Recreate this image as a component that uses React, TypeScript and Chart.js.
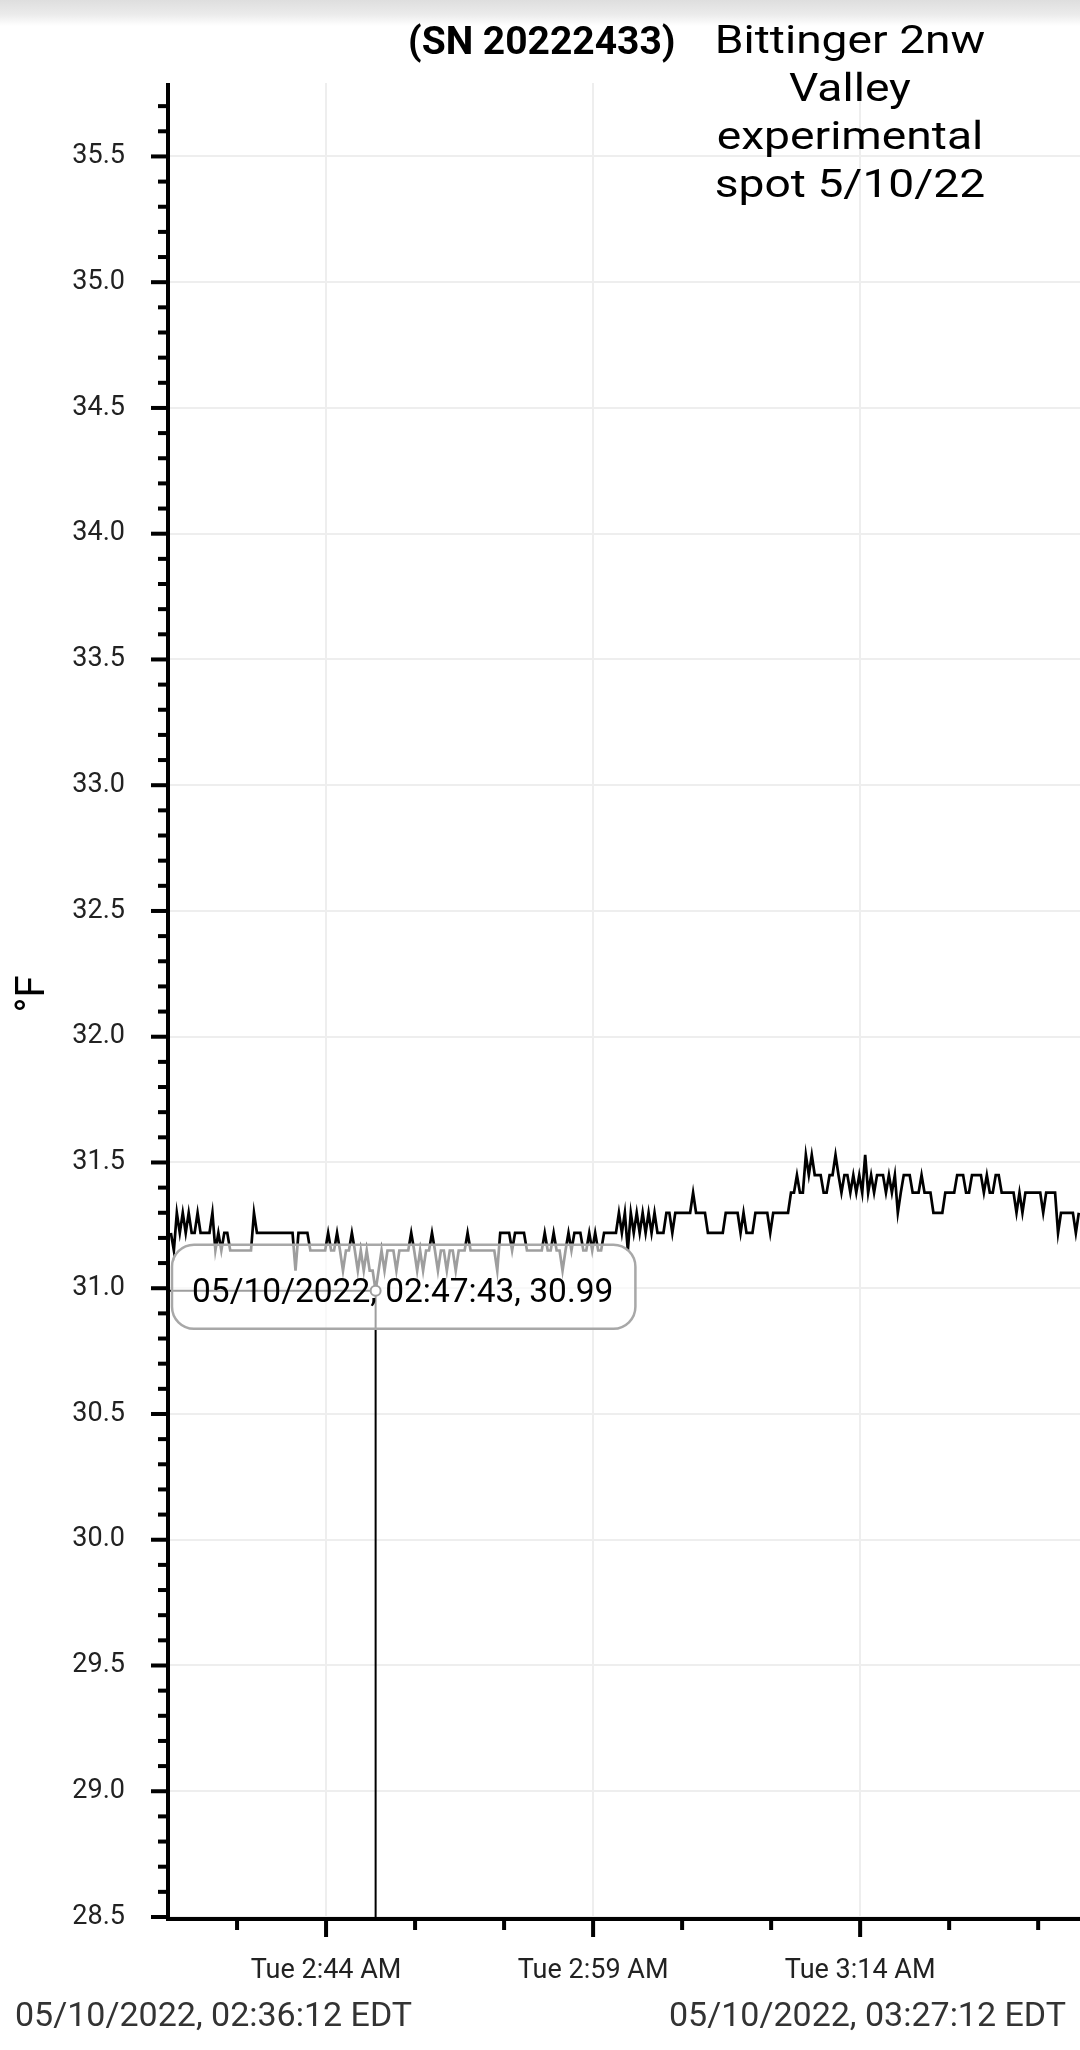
import { useEffect, useRef } from 'react';
import { Chart, registerables } from 'chart.js';

Chart.register(...registerables);

// ---- data ----
const SAMPLE_START_S = 1; // seconds after 05/10/2022 02:36:12
const SAMPLE_STEP_S = 10;
const TEMPS_F = [
  31.22, 31.15, 31.30, 31.22, 31.30, 31.22, 31.30, 31.22, 31.22, 31.30,
  31.22, 31.22, 31.22, 31.22, 31.30, 31.15, 31.22, 31.15, 31.22, 31.22,
  31.15, 31.15, 31.15, 31.15, 31.15, 31.15, 31.15, 31.15, 31.30, 31.22,
  31.22, 31.22, 31.22, 31.22, 31.22, 31.22, 31.22, 31.22, 31.22, 31.22,
  31.22, 31.22, 31.07, 31.22, 31.22, 31.22, 31.22, 31.15, 31.15, 31.15,
  31.15, 31.15, 31.15, 31.22, 31.15, 31.15, 31.22, 31.15, 31.07, 31.15,
  31.15, 31.22, 31.15, 31.07, 31.15, 31.07, 31.15, 31.07, 31.07, 30.99,
  31.07, 31.15, 31.07, 31.15, 31.15, 31.15, 31.07, 31.15, 31.15, 31.15,
  31.15, 31.22, 31.15, 31.07, 31.15, 31.07, 31.15, 31.15, 31.22, 31.15,
  31.07, 31.15, 31.15, 31.07, 31.15, 31.15, 31.07, 31.15, 31.15, 31.15,
  31.22, 31.15, 31.15, 31.15, 31.15, 31.15, 31.15, 31.15, 31.15, 31.15,
  31.07, 31.22, 31.22, 31.22, 31.22, 31.15, 31.22, 31.22, 31.22, 31.22,
  31.15, 31.15, 31.15, 31.15, 31.15, 31.15, 31.22, 31.15, 31.15, 31.22,
  31.15, 31.15, 31.07, 31.15, 31.22, 31.15, 31.22, 31.22, 31.22, 31.15,
  31.15, 31.22, 31.15, 31.22, 31.15, 31.15, 31.22, 31.22, 31.22, 31.22,
  31.22, 31.30, 31.22, 31.30, 31.15, 31.30, 31.22, 31.30, 31.22, 31.30,
  31.22, 31.30, 31.22, 31.30, 31.22, 31.22, 31.22, 31.30, 31.30, 31.22,
  31.30, 31.30, 31.30, 31.30, 31.30, 31.30, 31.38, 31.30, 31.30, 31.30,
  31.30, 31.22, 31.22, 31.22, 31.22, 31.22, 31.22, 31.30, 31.30, 31.30,
  31.30, 31.30, 31.22, 31.30, 31.22, 31.22, 31.22, 31.30, 31.30, 31.30,
  31.30, 31.30, 31.22, 31.30, 31.30, 31.30, 31.30, 31.30, 31.30, 31.38,
  31.38, 31.45, 31.38, 31.38, 31.53, 31.45, 31.53, 31.45, 31.45, 31.45,
  31.38, 31.38, 31.45, 31.45, 31.53, 31.45, 31.38, 31.45, 31.45, 31.38,
  31.45, 31.38, 31.45, 31.38, 31.53, 31.38, 31.45, 31.38, 31.45, 31.45,
  31.45, 31.38, 31.45, 31.38, 31.45, 31.30, 31.38, 31.45, 31.45, 31.45,
  31.38, 31.38, 31.38, 31.45, 31.38, 31.38, 31.38, 31.30, 31.30, 31.30,
  31.30, 31.38, 31.38, 31.38, 31.38, 31.45, 31.45, 31.45, 31.38, 31.38,
  31.45, 31.45, 31.45, 31.45, 31.38, 31.45, 31.38, 31.38, 31.45, 31.45,
  31.38, 31.38, 31.38, 31.38, 31.38, 31.30, 31.38, 31.30, 31.38, 31.38,
  31.38, 31.38, 31.38, 31.38, 31.30, 31.38, 31.38, 31.38, 31.38, 31.22,
  31.30, 31.30, 31.30, 31.30, 31.30, 31.22, 31.30,
];

// x axis (seconds after 02:36:12)
const X_MIN_S = -2;
const X_MAX_S = 3065;
const X_TICK_S = [224, 524, 824, 1124, 1424, 1724, 2024, 2324, 2624, 2924];
const X_TICK_LABELS = ['', 'Tue 2:44 AM', '', '', 'Tue 2:59 AM', '', '', 'Tue 3:14 AM', '', ''];

// y axis
const Y_MIN = 28.5;
const Y_MAX = 35.792;
const Y_MAJOR_LABELS = ['28.5', '29.0', '29.5', '30.0', '30.5', '31.0', '31.5', '32.0', '32.5', '33.0', '33.5', '34.0', '34.5', '35.0', '35.5'];
const Y_MINOR_STEP = 0.1;
const Y_UNIT = '°F';

// texts
const TOOLTIP_INDEX = 69;
const TOOLTIP_TIME = '05/10/2022, 02:47:43';
const RANGE_START_LABEL = '05/10/2022, 02:36:12 EDT';
const RANGE_END_LABEL = '05/10/2022, 03:27:12 EDT';
const SERIAL = '(SN 20222433)';
const TITLE_LINES = ['Bittinger 2nw', 'Valley', 'experimental', 'spot 5/10/22'];

const FONT = 'Roboto';
const AXIS_W = 4;

function yMinorTicks(): number[] {
  const out: number[] = [];
  const n = Math.floor((Y_MAX - Y_MIN) / Y_MINOR_STEP + 1e-6);
  for (let i = 0; i <= n; i++) out.push(Math.round((Y_MIN + i * Y_MINOR_STEP) * 10) / 10);
  return out;
}

const axesPlugin = {
  id: 'axesAndTicks',
  afterDraw(chart: any) {
    const { ctx, chartArea, scales, width } = chart;
    const { left, top, bottom } = chartArea;
    ctx.save();
    ctx.fillStyle = '#000';
    // axis lines, drawn just outside the plot area
    ctx.fillRect(left - AXIS_W, top, AXIS_W, bottom - top + AXIS_W);
    ctx.fillRect(left - AXIS_W, bottom, width - left + AXIS_W, AXIS_W);
    // x tick marks
    X_TICK_S.forEach((v, i) => {
      const px = scales.x.getPixelForValue(v);
      const len = X_TICK_LABELS[i] ? 16 : 9;
      ctx.fillRect(px - 2, bottom + AXIS_W, 4, len);
    });
    // y tick marks
    const majors = Y_MAJOR_LABELS.map(Number);
    yMinorTicks().forEach((v) => {
      const py = scales.y.getPixelForValue(v);
      const isMajor = majors.some((m) => Math.abs(m - v) < 1e-6);
      const len = isMajor ? 15 : 8;
      ctx.fillRect(left - AXIS_W - len, py - 2, len, 4);
    });
    // y unit title
    ctx.translate(34, (top + bottom) / 2 - 6);
    ctx.rotate(-Math.PI / 2);
    ctx.font = `40px ${FONT}`;
    ctx.textAlign = 'center';
    ctx.textBaseline = 'middle';
    ctx.fillText(Y_UNIT, 0, 0);
    ctx.restore();
  },
};

const readoutPlugin = {
  id: 'readout',
  afterDraw(chart: any) {
    const { ctx, chartArea } = chart;
    const pt = chart.getDatasetMeta(0).data[TOOLTIP_INDEX];
    if (!pt) return;
    const px = pt.x;
    const py = pt.y;
    ctx.save();
    ctx.strokeStyle = '#000';
    ctx.lineWidth = 2;
    ctx.beginPath();
    ctx.moveTo(chartArea.left, py);
    ctx.lineTo(px, py);
    ctx.moveTo(px, py);
    ctx.lineTo(px, chartArea.bottom);
    ctx.stroke();
    ctx.beginPath();
    ctx.arc(px, py, 5, 0, Math.PI * 2);
    ctx.fillStyle = '#fff';
    ctx.fill();
    ctx.stroke();

    ctx.font = `33.5px ${FONT}`;
    const text = `${TOOLTIP_TIME}, ${TEMPS_F[TOOLTIP_INDEX].toFixed(2)}`;
    const tw = ctx.measureText(text).width;
    const bx = chartArea.left + 2;
    const by = py - 46;
    const bh = 84;
    const bw = tw + 42;
    ctx.beginPath();
    ctx.roundRect(bx, by, bw, bh, 22);
    ctx.fillStyle = 'rgba(255,255,255,0.62)';
    ctx.fill();
    ctx.strokeStyle = '#a8a8a8';
    ctx.lineWidth = 2.5;
    ctx.stroke();
    ctx.fillStyle = '#000';
    ctx.textAlign = 'left';
    ctx.textBaseline = 'alphabetic';
    ctx.fillText(text, bx + 20, py + 11);
    ctx.restore();
  },
};

export default function App() {
  const canvasRef = useRef<HTMLCanvasElement | null>(null);

  useEffect(() => {
    const canvas = canvasRef.current;
    if (!canvas) return;
    const points = TEMPS_F.map((y, i) => ({ x: SAMPLE_START_S + i * SAMPLE_STEP_S, y }));
    const chart = new Chart(canvas, {
      type: 'line',
      data: {
        datasets: [
          {
            data: points,
            borderColor: '#000',
            borderWidth: 2.7,
            pointRadius: 0,
            tension: 0,
            fill: false,
          },
        ],
      },
      options: {
        animation: false,
        responsive: false,
        maintainAspectRatio: false,
        layout: { padding: { top: 83, left: 0, right: 0, bottom: 0 } },
        plugins: { legend: { display: false }, tooltip: { enabled: false }, title: { display: false } },
        scales: {
          x: {
            type: 'linear',
            min: X_MIN_S,
            max: X_MAX_S,
            afterBuildTicks: (axis: any) => {
              axis.ticks = X_TICK_S.map((v) => ({ value: v }));
            },
            afterFit: (axis: any) => {
              axis.height = 133;
            },
            ticks: {
              autoSkip: false,
              maxRotation: 0,
              minRotation: 0,
              padding: 38,
              color: '#222',
              font: { family: FONT, size: 27 },
              callback: (_v: any, i: number) => X_TICK_LABELS[i] ?? '',
            },
            grid: {
              drawTicks: false,
              lineWidth: 2,
              color: (c: any) => (X_TICK_LABELS[c.index] ? '#eeeeee' : 'rgba(0,0,0,0)'),
            },
            border: { display: false },
          },
          y: {
            type: 'linear',
            min: Y_MIN,
            max: Y_MAX,
            afterBuildTicks: (axis: any) => {
              axis.ticks = Y_MAJOR_LABELS.map((l) => ({ value: Number(l) }));
            },
            afterFit: (axis: any) => {
              axis.width = 170;
            },
            ticks: {
              autoSkip: false,
              padding: 45,
              color: '#222',
              font: { family: FONT, size: 27 },
              callback: (_v: any, i: number) => Y_MAJOR_LABELS[i] ?? '',
            },
            grid: { drawTicks: false, lineWidth: 2, color: '#eeeeee' },
            border: { display: false },
          },
        },
      },
      plugins: [axesPlugin, readoutPlugin],
    } as any);
    return () => chart.destroy();
  }, []);

  return (
    <div
      style={{
        position: 'absolute',
        left: 0,
        top: 0,
        width: 1080,
        height: 2050,
        overflow: 'hidden',
        background: '#fff',
        fontFamily: FONT,
      }}
    >
      <canvas
        ref={canvasRef}
        width={1080}
        height={2050}
        style={{ position: 'absolute', left: 0, top: 0, width: 1080, height: 2050 }}
      />
      <div
        style={{
          position: 'absolute',
          left: 0,
          top: 0,
          width: 1080,
          height: 26,
          background: 'linear-gradient(to bottom, #dedede 0%, #ebebeb 55%, #ffffff 100%)',
        }}
      />
      <div
        style={{
          position: 'absolute',
          left: 408,
          top: 17,
          fontSize: 39,
          lineHeight: '48px',
          fontWeight: 700,
          color: '#000',
          whiteSpace: 'nowrap',
        }}
      >
        {SERIAL}
      </div>
      <div
        style={{
          position: 'absolute',
          left: 700,
          top: 16,
          width: 300,
          fontSize: 38,
          lineHeight: '48px',
          textAlign: 'center',
          color: '#000',
          transform: 'scaleX(1.215)',
          transformOrigin: '50% 0',
        }}
      >
        {TITLE_LINES.map((l) => (
          <div key={l}>{l}</div>
        ))}
      </div>
      <div
        style={{
          position: 'absolute',
          left: 15,
          top: 1994,
          fontSize: 34,
          lineHeight: '40px',
          color: '#333',
          whiteSpace: 'nowrap',
        }}
      >
        {RANGE_START_LABEL}
      </div>
      <div
        style={{
          position: 'absolute',
          right: 14,
          top: 1994,
          fontSize: 34,
          lineHeight: '40px',
          color: '#333',
          whiteSpace: 'nowrap',
        }}
      >
        {RANGE_END_LABEL}
      </div>
    </div>
  );
}
